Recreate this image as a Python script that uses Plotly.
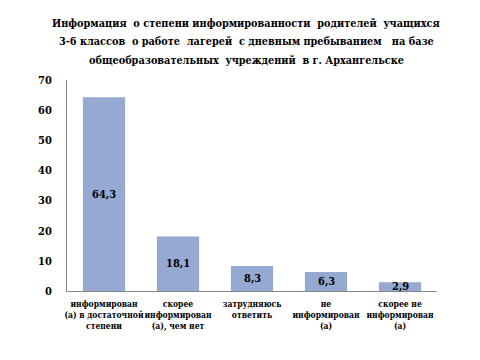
import plotly.graph_objects as go

categories = [
    "информирован<br>(а) в достаточной<br>степени",
    "скорее<br>информирован<br>(а), чем нет",
    "затрудняюсь<br>ответить",
    "не<br>информирован<br>(а)",
    "скорее не<br>информирован<br>(а)",
]
values = [64.3, 18.1, 8.3, 6.3, 2.9]
labels = ["64,3", "18,1", "8,3", "6,3", "2,9"]

title_lines = [
    "Информация  о степени информированности  родителей  учащихся",
    "3-6 классов  о работе  лагерей  с дневным пребыванием   на базе",
    "общеобразовательных  учреждений  в г. Архангельске",
]

SERIF = "DejaVu Serif Condensed, DejaVu Serif"

fig = go.Figure()
fig.add_trace(go.Bar(
    x=categories, y=values,
    marker=dict(color="#95A9D3", line=dict(width=0)),
    width=0.57,
))

for c, v, t in zip(categories, values, labels):
    fig.add_annotation(x=c, y=v / 2, text="<b>%s</b>" % t, showarrow=False,
                       font=dict(family=SERIF, size=11, color="black"),
                       yanchor="middle")

# title lines: page y ~22, 42, 61 ; plot area page y 80..291 (211 px)
for i, line in enumerate(title_lines):
    page_y = 23.5 + 18.5 * i
    fig.add_annotation(xref="paper", yref="paper", x=0.485,
                       y=(291 - page_y) / 211, text="<b>%s</b>" % line,
                       showarrow=False, xanchor="center", yanchor="middle",
                       font=dict(family=SERIF, size=10.8, color="black"))

fig.update_layout(
    width=472, height=352,
    margin=dict(l=59, r=43, t=72, b=69, autoexpand=False),
    paper_bgcolor="white", plot_bgcolor="white",
    showlegend=False,
    font=dict(family=SERIF, color="black"),
)
fig.update_yaxes(range=[0, 70], dtick=10, showgrid=False, zeroline=False,
                 showline=True, linecolor="#868686", linewidth=1,
                 ticks="", ticklabelstandoff=12, automargin=False,
                 tickfont=dict(family=SERIF, size=11, color="black"),
                 tickprefix="<b>", ticksuffix="</b>")
fig.update_xaxes(showline=True, linecolor="#868686", linewidth=1, ticks="",
                 automargin=False, ticklabelstandoff=5,
                 tickfont=dict(family=SERIF, size=8.5, color="black"),
                 tickangle=0, showgrid=False,
                 tickprefix="<b>", ticksuffix="</b>")

fig.write_html("out.html")
